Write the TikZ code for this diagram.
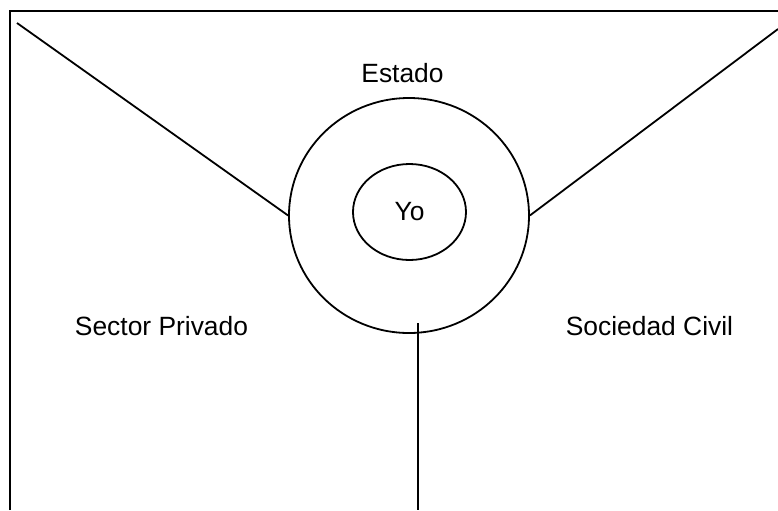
\documentclass[tikz,border=0pt]{standalone}
\usepackage{fontspec}
\setmainfont{Liberation Sans}
\usetikzlibrary{shapes.geometric, positioning, calc}

\begin{document}
\begin{tikzpicture}[
  x=0.5pt, y=-0.5pt,
  ring/.style={ellipse, draw=black, line width=0.9pt, inner sep=0pt},
  label/.style={font=\fontsize{13.2}{16}\selectfont, anchor=base},
  edge/.style={line width=0.9pt, color=black}
]
  \useasboundingbox (0,0) rectangle (778,510);

  % Frame
  \draw[edge] (10,510) -- (10,11) -- (778,11);

  % Circles
  \node[ring, minimum width=120pt, minimum height=117.5pt] (outer) at (409,215.5) {};
  \node[ring, minimum width=56.5pt, minimum height=48pt] (self) at (409.5,212) {};
  \node[label] (me) at (409.5,220) {Yo};

  % Sectors
  \node[label] (state) at (402.5,82) {Estado};
  \node[label] (private) at (161.5,335) {Sector Privado};
  \node[label] (civil) at (649.5,335) {Sociedad Civil};

  % Dividers
  \coordinate (tl) at (17,23);
  \coordinate (tr) at (778,29);
  \coordinate (stem) at (418,323);
  \coordinate (foot) at (418,510);
  \draw[edge] (tl) -- (outer.west);
  \draw[edge] (tr) -- (outer.east);
  \draw[edge] (stem) -- (foot);
\end{tikzpicture}
\end{document}
